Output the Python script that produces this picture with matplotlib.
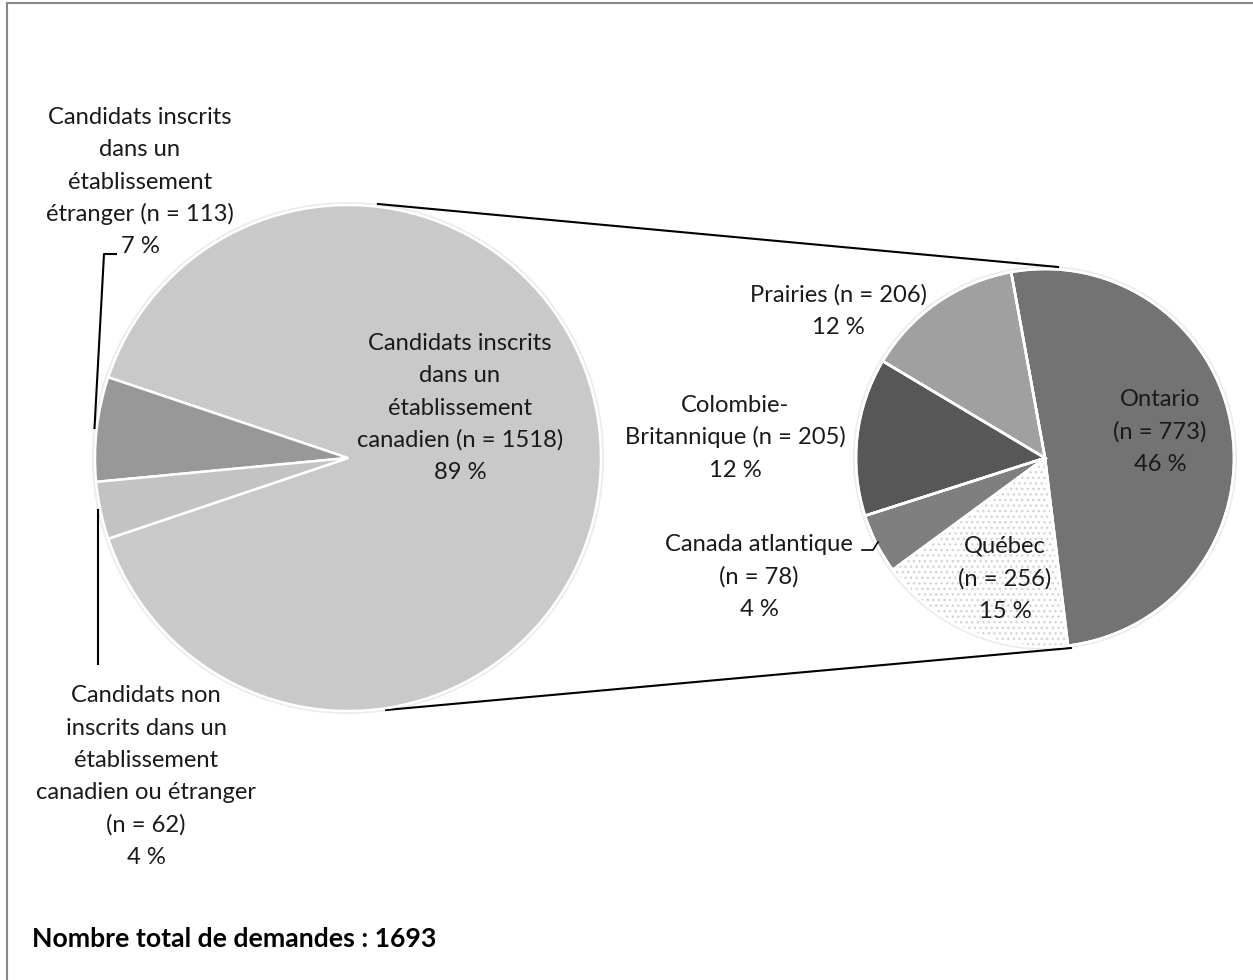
import matplotlib
matplotlib.use("Agg")
import matplotlib.pyplot as plt
from matplotlib.patches import Circle

plt.rcParams['font.family'] = ['Lato', 'DejaVu Sans']

# ---- data ----
main_labels = ["Candidats inscrits\ndans un\nétablissement\ncanadien (n = 1518)\n89 %",
               "Candidats inscrits\ndans un\nétablissement\nétranger (n = 113)\n7 %",
               "Candidats non\ninscrits dans un\nétablissement\ncanadien ou étranger\n(n = 62)\n4 %"]
main_values = [1518, 113, 62]
main_colors = ['#c9c9c9', '#989898', '#c3c3c3']

sub_labels = ["Ontario\n(n = 773)\n46 %", "Prairies (n = 206)\n12 %",
              "Colombie-\nBritannique (n = 205)\n12 %", "Canada atlantique\n(n = 78)\n4 %",
              "Québec\n(n = 256)\n15 %"]
sub_values = [773, 206, 205, 78, 256]
sub_colors = ['#737373', '#a0a0a0', '#575757', '#7f7f7f', '#ffffff']

total_text = "Nombre total de demandes : 1693"

W, H = 1253, 980
fig = plt.figure(figsize=(W / 100, H / 100), dpi=100)
ax = fig.add_axes([0, 0, 1, 1])
ax.set_xlim(0, W)
ax.set_ylim(0, H)

def Y(yp):
    return H - yp

# fit font sizes to measured text widths
renderer = fig.canvas.get_renderer()
t = ax.text(0, 0, "Candidats inscrits", fontsize=20)
fs = 20 * 184 / t.get_window_extent(renderer).width
t.remove()
t = ax.text(0, 0, total_text, fontsize=20, fontweight='bold')
fsb = 20 * 403 / t.get_window_extent(renderer).width
t.remove()

# left pie
lc = (348, Y(458)); lr = 253
total = sum(main_values)
start_main = -main_values[0] / total * 180
ax.add_patch(Circle(lc, lr + 3, facecolor='#ececec', edgecolor='none', zorder=0))
ax.pie(main_values, colors=main_colors, startangle=start_main, counterclock=True,
       center=lc, radius=lr, frame=True,
       wedgeprops=dict(edgecolor='white', linewidth=1.8))

# right pie
rc = (1045, Y(458)); rr = 189
ax.add_patch(Circle(rc, rr + 3, facecolor='#ececec', edgecolor='none', zorder=0))
wedges, _ = ax.pie(sub_values, colors=sub_colors, startangle=-83, counterclock=True,
                   center=rc, radius=rr, frame=True,
                   wedgeprops=dict(edgecolor='white', linewidth=1.8))
plt.rcParams['hatch.linewidth'] = 1.3
qw = wedges[4]
qw.set_hatch('...')
qw.set_edgecolor('#d4d4d4')
qw.set_linewidth(0)
ax.pie(sub_values, colors=['none'] * 5, startangle=-83, counterclock=True,
       center=rc, radius=rr, frame=True,
       wedgeprops=dict(edgecolor='white', linewidth=1.8, facecolor='none'))

# connector lines
ax.plot([378, 1058], [Y(204), Y(267)], color='black', lw=1.5, zorder=0.5)
ax.plot([386, 1071], [Y(710), Y(648)], color='black', lw=1.5, zorder=0.5)

pitch = 32.3

def label(text, x, first_baseline):
    for i, line in enumerate(text.split('\n')):
        ax.text(x, Y(first_baseline + i * pitch), line, ha='center', va='baseline',
                fontsize=fs, color='#1a1a1a')

label(main_labels[0], 460, 350)
label(main_labels[1], 140, 124)
label(main_labels[2], 146, 702.5)

label(sub_labels[0], 1160, 406)
label(sub_labels[1], 838, 302)
label(sub_labels[2], 735, 412)
label(sub_labels[3], 759, 551)
label(sub_labels[4], 1005, 553)

ax.text(32, Y(947), total_text, ha='left', va='baseline', fontsize=fsb,
        fontweight='bold', color='black')

# leader lines
ax.plot([116, 104, 94.5], [Y(254), Y(254), Y(428)], color='black', lw=1.5)
ax.plot([97.5, 97.5], [Y(510), Y(664)], color='black', lw=1.5)
ax.plot([862, 873, 878], [Y(550), Y(550), Y(542)], color='black', lw=1.2)

# frame (top and left)
ax.plot([7, 7], [Y(3), Y(980)], color='#888888', lw=1.5)
ax.plot([7, W], [Y(3), Y(3)], color='#888888', lw=1.5)

ax.set_xlim(0, W)
ax.set_ylim(0, H)
ax.set_aspect('auto')
ax.axis('off')

fig.savefig('out.png', dpi=100, facecolor='white')
